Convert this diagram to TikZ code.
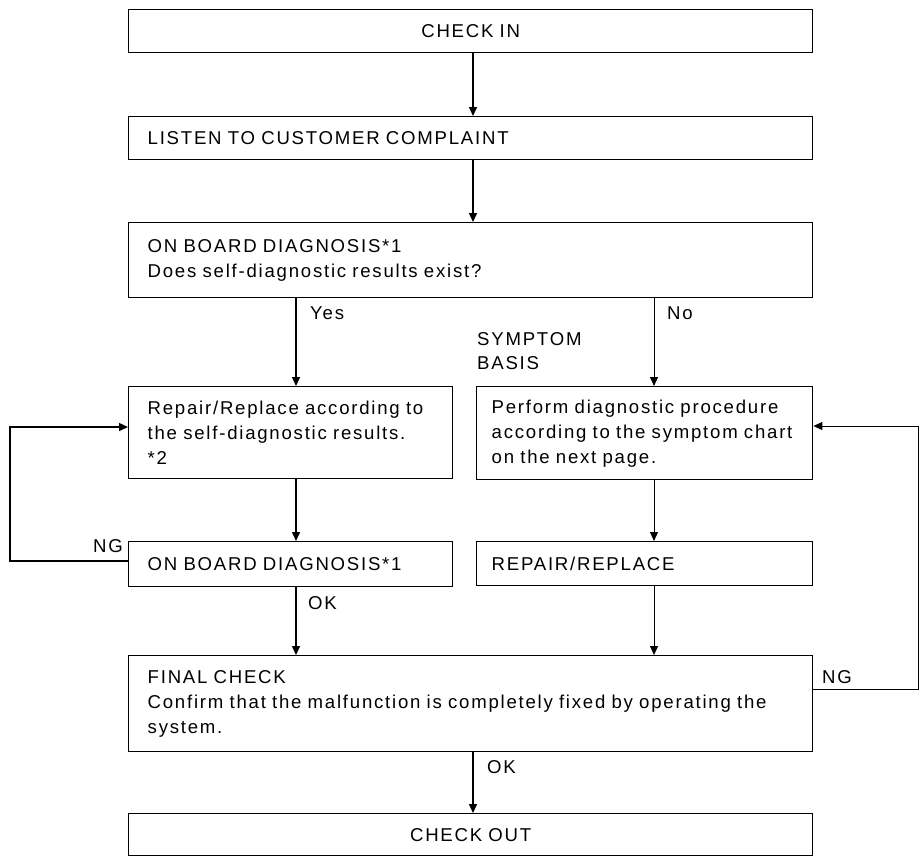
\documentclass[tikz,border=0pt]{standalone}
\usepackage{fontspec}
\setmainfont{Liberation Sans}[LetterSpace=9.5]
\usetikzlibrary{arrows.meta}
\begin{document}
\begin{tikzpicture}[x=1pt,y=-1pt,
  every node/.style={font=\fontsize{18.6}{25}\selectfont},
  fullbox/.style={draw, line width=1.4pt, anchor=north west, inner xsep=19pt, inner ysep=0pt,
    minimum width=684pt, text width=646pt, align=left},
  halfbox/.style={draw, line width=1.4pt, anchor=north west, inner xsep=19pt, inner ysep=0pt,
    minimum width=324pt, text width=286pt, align=left},
  rhalfbox/.style={draw, line width=1.4pt, anchor=north west, inner xsep=15pt, inner ysep=0pt,
    minimum width=336pt, text width=306pt, align=left},
  arr/.style={line width=1.4pt, -{Triangle[length=9pt,width=8pt]}},
  thinarr/.style={line width=0.9pt, -{Triangle[length=9pt,width=8pt]}},
  lbl/.style={inner sep=0pt}
]
\useasboundingbox (0,0) rectangle (920,857);

% boxes
\node[fullbox, align=center, minimum height=43pt] (checkin) at (128,9) {CHECK IN};
\node[fullbox, minimum height=43pt] (listen) at (128,116) {LISTEN TO CUSTOMER COMPLAINT};
\node[fullbox, minimum height=75pt] (obd1) at (128,222) {ON BOARD DIAGNOSIS*1\\Does self-diagnostic results exist?};
\node[halfbox, minimum height=92pt] (repair) at (128,386) {\mbox{Repair/Replace according to}\\\mbox{the self-diagnostic results.}\\{*2}};
\node[rhalfbox, minimum height=93pt] (perform) at (476,386) {\mbox{Perform diagnostic procedure}\\\mbox{according to the symptom chart}\\on the next page.};
\node[halfbox, minimum height=45pt] (onbd2) at (128,541) {ON BOARD DIAGNOSIS*1};
\node[rhalfbox, minimum height=44pt] (reprep) at (476,541) {REPAIR/REPLACE};
\node[fullbox, minimum height=96pt] (final) at (128,655) {FINAL CHECK\\\mbox{Confirm that the malfunction is completely fixed by operating the}\\system.};
\node[fullbox, align=center, minimum height=42pt] (checkout) at (128,813) {CHECK OUT};

% guide coordinates
\coordinate (xa) at (473,0);
\coordinate (xl) at (296,0);
\coordinate (xr) at (654,0);
\coordinate (xL) at (10,0);
\coordinate (xR) at (918,0);
\coordinate (yl1) at (0,561);
\coordinate (yl2) at (0,427);
\coordinate (yr1) at (0,689);
\coordinate (yr2) at (0,426);

% connectors
\draw[arr] (checkin.south -| xa) -- (listen.north -| xa);
\draw[arr] (listen.south -| xa) -- (obd1.north -| xa);
\draw[arr] (obd1.south -| xl) -- (repair.north -| xl);
\draw[thinarr] (obd1.south -| xr) -- (perform.north -| xr);
\draw[arr] (repair.south -| xl) -- (onbd2.north -| xl);
\draw[thinarr] (perform.south -| xr) -- (reprep.north -| xr);
\draw[arr] (onbd2.south -| xl) -- (final.north -| xl);
\draw[thinarr] (reprep.south -| xr) -- (final.north -| xr);
\draw[arr] (final.south -| xa) -- (checkout.north -| xa);
\draw[arr] (onbd2.west |- yl1) -- (xL |- yl1) -- (xL |- yl2) -- (repair.west |- yl2);
\draw[thinarr] (final.east |- yr1) -- (xR |- yr1) -- (xR |- yr2) -- (perform.east |- yr2);

% labels
\node[lbl, anchor=west] (yes) at (310,313) {Yes};
\node[lbl, anchor=west] (no) at (667,313) {No};
\node[lbl, anchor=west, align=left, font=\fontsize{18.6}{24}\selectfont] (symptom) at (477,351) {SYMPTOM\\BASIS};
\node[lbl, anchor=east] (ngl) at (123,546) {NG};
\node[lbl, anchor=west] (ngr) at (822,677) {NG};
\node[lbl, anchor=west] (ok1) at (308,603) {OK};
\node[lbl, anchor=west] (ok2) at (487,767) {OK};
\end{tikzpicture}
\end{document}
